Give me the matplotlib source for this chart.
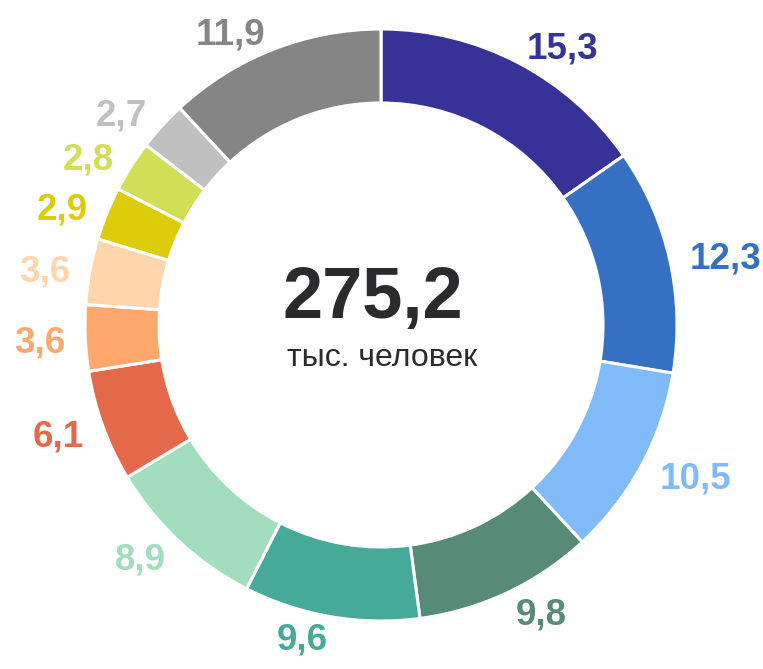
import matplotlib
matplotlib.use("Agg")
import matplotlib.pyplot as plt
import numpy as np

values = [15.3, 12.3, 10.5, 9.8, 9.6, 8.9, 6.1, 3.6, 3.6, 2.9, 2.8, 2.7, 11.9]
labels = ["15,3", "12,3", "10,5", "9,8", "9,6", "8,9", "6,1", "3,6", "3,6", "2,9", "2,8", "2,7", "11,9"]
colors = ["#373297", "#3570C3", "#80BAF9", "#578B78", "#46AA98", "#A2DDBE", "#E4694A",
          "#FFA86E", "#FFD6AC", "#DCCC0A", "#D0DF55", "#C0C0C0", "#858585"]
total_text = "275,2"
unit_text = "тыс. человек"

plt.rcParams['font.family'] = ['Liberation Sans', 'DejaVu Sans']

W, H = 763, 669
fig = plt.figure(figsize=(W / 100, H / 100), dpi=100)
ax = fig.add_axes([0, 0, 1, 1])

cx, cy = 381, H - 325
R = 296
width = 74

wedges, _ = ax.pie(values, colors=colors, startangle=90, counterclock=False,
                   center=(cx, cy), radius=R, frame=True,
                   wedgeprops=dict(width=width, edgecolor='white', linewidth=2.2))
ax.set_xlim(0, W)
ax.set_ylim(0, H)
ax.set_aspect('equal')
ax.axis('off')

D = 316
for w, lab, col in zip(wedges, labels, colors):
    ang = np.deg2rad((w.theta1 + w.theta2) / 2)
    x = cx + D * np.cos(ang)
    y = cy + D * np.sin(ang) - 4
    ha = 'left' if np.cos(ang) >= 0 else 'right'
    ax.text(x, y, lab, ha=ha, va='center', color=col, fontsize=26.5, fontweight='bold')

ax.text(cx - 8, H - 318, total_text, ha='center', va='baseline', color='#2B2B2E',
        fontsize=52, fontweight='bold')
ax.text(cx + 1, H - 358, unit_text, ha='center', va='center', color='#2B2B2E', fontsize=23)

fig.savefig("out.png", dpi=100)
